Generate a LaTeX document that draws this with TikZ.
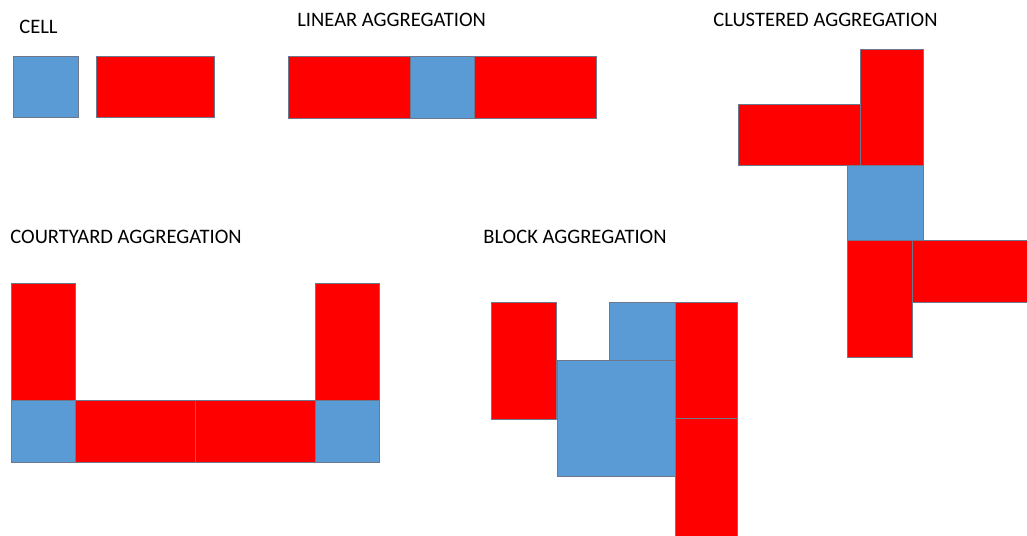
\documentclass[tikz,border=0pt]{standalone}
\usepackage{fontspec}
\setmainfont{Carlito}
\usepackage{tikz}
\usepackage{xcolor}
\definecolor{cellblue}{RGB}{91,155,213}
\definecolor{unitred}{RGB}{255,0,0}
\definecolor{edgegrey}{RGB}{110,120,140}

\begin{document}
\begin{tikzpicture}[
  x=0.02cm, y=-0.02cm,
  cellbox/.style={draw=edgegrey, fill=cellblue, line width=0.4pt},
  unitbox/.style={draw=edgegrey, fill=unitred, line width=0.4pt},
  title/.style={anchor=base west, inner sep=0pt, font=\fontsize{11.7}{14}\selectfont}
]
\useasboundingbox (0,0) rectangle (1027,536);

% ---- cell ----
\node[title] (celltitle) at (19,33.5) {CELL};
\draw[cellbox] (13,56) rectangle (78,117);
\draw[unitbox] (96,56) rectangle (214,117);

% ---- linear aggregation ----
\node[title] (lineartitle) at (297,26.7) {LINEAR AGGREGATION};
\draw[unitbox] (288,56) rectangle (410,118);
\draw[cellbox] (410,56) rectangle (474,118);
\draw[unitbox] (474,56) rectangle (596,118);

% ---- clustered aggregation ----
\node[title] (clustertitle) at (713,26.7) {CLUSTERED AGGREGATION};
\draw[unitbox] (860,49) rectangle (923,165.5);
\draw[unitbox] (738,104) rectangle (860,165.5);
\draw[cellbox] (847,165.5) rectangle (923,240);
\draw[unitbox] (847,240) rectangle (912,357);
\draw[unitbox] (912,240) rectangle (1027,302);

% ---- courtyard aggregation ----
\node[title] (courttitle) at (10,244) {COURTYARD AGGREGATION};
\draw[unitbox] (11,283) rectangle (75,400);
\draw[unitbox] (315,283) rectangle (379.5,400);
\draw[cellbox] (11,400) rectangle (75,462);
\draw[unitbox] (75,400) rectangle (195.5,462);
\draw[unitbox] (195.5,400) rectangle (315,462);
\draw[cellbox] (315,400) rectangle (379.5,462);

% ---- block aggregation ----
\node[title] (blocktitle) at (483,244) {BLOCK AGGREGATION};
\draw[unitbox] (491.5,302.5) rectangle (556.5,419);
\draw[cellbox] (609.5,302.5) rectangle (675.5,360.5);
\draw[cellbox] (557.5,360.5) rectangle (675.5,476.5);
\draw[unitbox] (675.5,302.5) rectangle (737.5,418.5);
\draw[unitbox] (675.5,418.5) rectangle (737.5,536);

\end{tikzpicture}
\end{document}
